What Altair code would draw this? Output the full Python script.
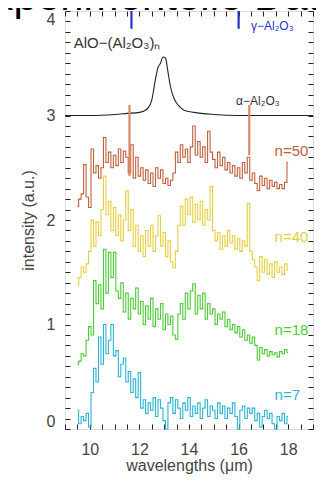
import altair as alt
import pandas as pd

# wavelength grid of the spectra (µm)
wl = [round(9.5 + 0.1 * i, 1) for i in range(86)]

n7 = [0.18, 0.05, 0.12, 0.08, 0.15, 0.02, 0.35, 0.58, 0.45, 0.88,
      0.62, 1.0, 0.72, 0.85, 1.0, 0.7, 0.75, 0.5, 0.62, 0.68,
      0.45, 0.55, 0.35, 0.48, 0.3, 0.54, 0.2, 0.28, 0.15, 0.25,
      0.18, 0.3, 0.12, 0.28, 0.2, 0.08, 0.0, 0.25, 0.3, 0.15,
      0.28, 0.2, 0.1, 0.25, 0.18, 0.3, 0.12, 0.22, 0.15, 0.25,
      0.1, 0.2, 0.28, 0.12, 0.22, 0.18, 0.1, 0.25, 0.15, 0.22,
      0.1, 0.2, 0.15, 0.25, 0.12, 0.0, 0.18, 0.22, 0.1, 0.2,
      0.15, 0.2, 0.08, 0.15, 0.02, 0.12, 0.18, 0.1, 0.15, 0.05,
      0.0, 0.12, 0.08, 0.15, 0.05, 0.12]

n18 = [0.62, 0.65, 0.72, 0.7, 0.85, 0.98, 0.9, 1.42, 1.2, 1.38,
       1.15, 1.72, 1.3, 1.69, 1.45, 1.69, 1.32, 1.25, 1.4, 1.12,
       1.3, 1.05, 1.25, 1.15, 1.35, 1.1, 1.22, 1.0, 1.18, 1.05,
       1.25, 0.98, 1.15, 1.05, 1.2, 0.95, 1.1, 1.0, 1.08, 0.9,
       0.86, 1.1, 1.2, 1.05, 1.3, 1.15, 1.32, 1.39, 1.1, 1.28,
       1.15, 1.3, 1.05, 1.2, 1.1, 1.15, 1.0, 1.1, 1.05, 1.12,
       0.98, 1.05, 0.95, 1.0, 0.92, 0.98, 0.88, 0.95, 0.85, 0.9,
       0.82, 0.88, 0.8, 0.66, 0.78, 0.72, 0.76, 0.7, 0.74, 0.71,
       0.73, 0.69, 0.74, 0.72, 0.76, 0.73]

n40 = [1.37, 1.45, 1.55, 1.5, 1.58, 1.7, 2.0, 1.75, 1.98, 1.85,
       2.1, 2.42, 2.05, 2.18, 1.9, 2.12, 1.85, 2.05, 1.8, 2.0,
       2.28, 1.9, 2.1, 1.75, 1.95, 1.7, 1.85, 1.65, 1.9, 1.75,
       1.95, 1.7, 1.85, 2.04, 1.75, 1.88, 1.65, 1.8, 1.6, 1.54,
       1.7, 1.95, 2.13, 1.95, 2.2, 2.05, 2.22, 1.98, 2.15, 2.0,
       2.18, 1.95, 2.1, 2.0, 2.32, 1.9, 1.8, 1.88, 1.72, 1.85,
       1.75, 1.9, 1.78, 1.85, 1.72, 1.82, 1.7, 1.8, 1.75, 2.16,
       1.7, 1.62, 1.55, 1.42, 1.65, 1.5, 1.62, 1.48, 1.58, 1.45,
       1.6, 1.5, 1.55, 1.48, 1.58, 1.52]

n50 = [2.13, 2.2, 2.25, 2.53, 2.22, 2.12, 2.68, 2.45, 2.52, 2.4,
       2.5, 2.79, 2.55, 2.65, 2.5, 2.62, 2.52, 2.68, 2.55, 2.66,
       2.6, 2.45, 2.72, 2.4, 2.6, 2.42, 2.5, 2.38, 2.48, 2.35,
       2.45, 2.32, 2.5, 2.4, 2.48, 2.35, 2.4, 2.33, 2.38, 2.45,
       2.65, 2.55, 2.72, 2.6, 2.68, 2.55, 2.7, 2.9, 2.62, 2.75,
       2.6, 2.7, 2.55, 2.85, 2.65, 2.58, 2.5, 2.65, 2.52, 2.6,
       2.48, 2.55, 2.45, 2.52, 2.42, 2.5, 2.4, 2.55, 2.45, 2.6,
       2.38, 2.45, 2.35, 2.28, 2.42, 2.33, 2.4, 2.3, 2.38, 2.32,
       2.36, 2.3, 2.34, 2.3, 2.36, 2.55]

# AlO-(Al2O3)n model curve
model_x = [9.0, 10.0, 11.0, 11.5, 12.0, 12.3, 12.5, 12.65, 12.75, 12.85, 12.95,
           13.05, 13.15, 13.25, 13.4, 13.6, 13.8, 14.2, 15.0, 16.0, 19.0]
model_y = [3.0, 3.0, 3.01, 3.02, 3.03, 3.06, 3.15, 3.35, 3.46, 3.5, 3.56,
           3.55, 3.42, 3.28, 3.16, 3.09, 3.05, 3.03, 3.01, 3.0, 3.0]

series_names = ["n=50", "n=40", "n=18", "n=7"]
series_colors = ["#c0603c", "#e6d040", "#4ccc34", "#2cb4d4"]

# reference line positions
gamma_x = [11.68, 16.0]
gamma_y0 = [3.83, 3.83]
gamma_y1 = [4.0, 4.0]
alpha_x = [11.6, 16.43]
alpha_y0 = [2.42, 2.62]
alpha_y1 = [3.1, 3.1]

x_ticks = [round(9 + 0.5 * i, 1) for i in range(21)]
y_ticks = [round(0.1 * i, 1) for i in range(41)]

rows = []
for name, vals in zip(series_names, [n50, n40, n18, n7]):
    for xv, yv in zip(wl, vals):
        rows.append({"wl": xv, "I": yv, "series": name})
spec_df = pd.DataFrame(rows)
model_df = pd.DataFrame({"wl": model_x, "I": model_y})
gamma_df = pd.DataFrame({"wl": gamma_x, "y0": gamma_y0, "y1": gamma_y1})
alpha_df = pd.DataFrame({"wl": alpha_x, "y0": alpha_y0, "y1": alpha_y1})

W, H = 248, 418
xs = alt.Scale(domain=[9, 19], nice=False, zero=False)
ys = alt.Scale(domain=[0, 4], nice=False, zero=False)
FONT = "Liberation Sans"
LBL = "#444444"

x_main = alt.Axis(orient="top", offset=-H, values=x_ticks,
                  labelExpr="abs(datum.value % 2) < 0.01 ? format(datum.value, 'd') : ''",
                  tickSize=5, tickColor="#222", domain=False, grid=False,
                  labelBaseline="top", labelPadding=-17, labelFontSize=16,
                  labelFont=FONT, labelColor=LBL, labelFlush=False,
                  title="wavelengths (μm)", titleY=41, titleBaseline="alphabetic",
                  titleFontSize=16, titleFont=FONT, titleFontWeight="normal",
                  titleColor=LBL)
y_main = alt.Axis(orient="right", offset=-W, values=y_ticks,
                  labelExpr="abs(datum.value % 1) < 0.01 ? format(datum.value, 'd') : ''",
                  tickSize=5, tickColor="#222", domain=False, grid=False,
                  labelAlign="right", labelPadding=-15,
                  labelFontSize=16, labelFont=FONT, labelColor=LBL,
                  labelFlush=True, labelFlushOffset=0,
                  title="intensity (a.u.)", titleAngle=-90, titleX=-37, titleY=H / 2,
                  titleAlign="center", titleBaseline="middle",
                  titleFontSize=16, titleFont=FONT, titleFontWeight="normal",
                  titleColor=LBL)
x_top = alt.Axis(orient="bottom", offset=-H, values=x_ticks, labels=False,
                 tickSize=5, tickColor="#222", domain=False, grid=False, title=None)
y_right = alt.Axis(orient="left", offset=-W, values=y_ticks, labels=False,
                   tickSize=5, tickColor="#222", domain=False, grid=False, title=None)

spectra = alt.Chart(spec_df).mark_line(interpolate="step", strokeWidth=1.1).encode(
    x=alt.X("wl:Q", scale=xs, axis=x_main),
    y=alt.Y("I:Q", scale=ys, axis=y_main),
    color=alt.Color("series:N", scale=alt.Scale(domain=series_names, range=series_colors), legend=None),
)

model = alt.Chart(model_df).mark_line(color="#222222", strokeWidth=1.1, interpolate="monotone").encode(
    x=alt.X("wl:Q", scale=xs, axis=x_top),
    y=alt.Y("I:Q", scale=ys, axis=y_right),
)

gamma = alt.Chart(gamma_df).mark_rule(color="#2234c8", strokeWidth=2.2).encode(
    x=alt.X("wl:Q", scale=xs, axis=None),
    y=alt.Y("y0:Q", scale=ys, axis=None), y2="y1:Q")
alpha = alt.Chart(alpha_df).mark_rule(color="#d98a64", strokeWidth=2.2).encode(
    x=alt.X("wl:Q", scale=xs, axis=None),
    y=alt.Y("y0:Q", scale=ys, axis=None), y2="y1:Q")

ann_df = pd.DataFrame({
    "x": [9.35, 17.45, 17.45, 17.45, 17.45],
    "y": [3.69, 2.66, 1.84, 0.95, 0.33],
    "t": ["AlO−(Al₂O₃)ₙ", "n=50", "n=40", "n=18", "n=7"],
    "c": ["#333333", "#c0603c", "#e6d040", "#4ccc34", "#2cb4d4"],
})
small_df = pd.DataFrame({
    "x": [16.5, 15.9],
    "y": [3.86, 3.14],
    "t": ["γ−Al₂O₃", "α−Al₂O₃"],
    "c": ["#2234c8", "#333333"],
})
head_df = pd.DataFrame({"x": [4.95], "y": [4.0], "t": ["Experimentelle Daten"]})

ann = alt.Chart(ann_df).mark_text(align="left", baseline="middle", fontSize=15, font=FONT).encode(
    x=alt.X("x:Q", scale=xs, axis=None), y=alt.Y("y:Q", scale=ys, axis=None),
    text="t:N", color=alt.Color("c:N", scale=None))
small = alt.Chart(small_df).mark_text(align="left", baseline="middle", fontSize=12, font=FONT).encode(
    x=alt.X("x:Q", scale=xs, axis=None), y=alt.Y("y:Q", scale=ys, axis=None),
    text="t:N", color=alt.Color("c:N", scale=None))
head = alt.Chart(head_df).mark_text(align="left", baseline="alphabetic", fontSize=42, font=FONT,
                                    color="#000000", dy=-1).encode(
    x=alt.X("x:Q", scale=xs, axis=None), y=alt.Y("y:Q", scale=ys, axis=None), text="t:N")

chart = alt.layer(spectra, model, gamma, alpha, ann, small, head).properties(
    width=W, height=H,
    autosize=alt.AutoSizeParams(type="none"),
    padding={"left": 57, "top": 3, "right": 3, "bottom": 45},
).configure_view(stroke="#222222", strokeWidth=1.2).configure(background="white")

chart.save("out.html", embed_options={"renderer": "svg", "actions": False})
